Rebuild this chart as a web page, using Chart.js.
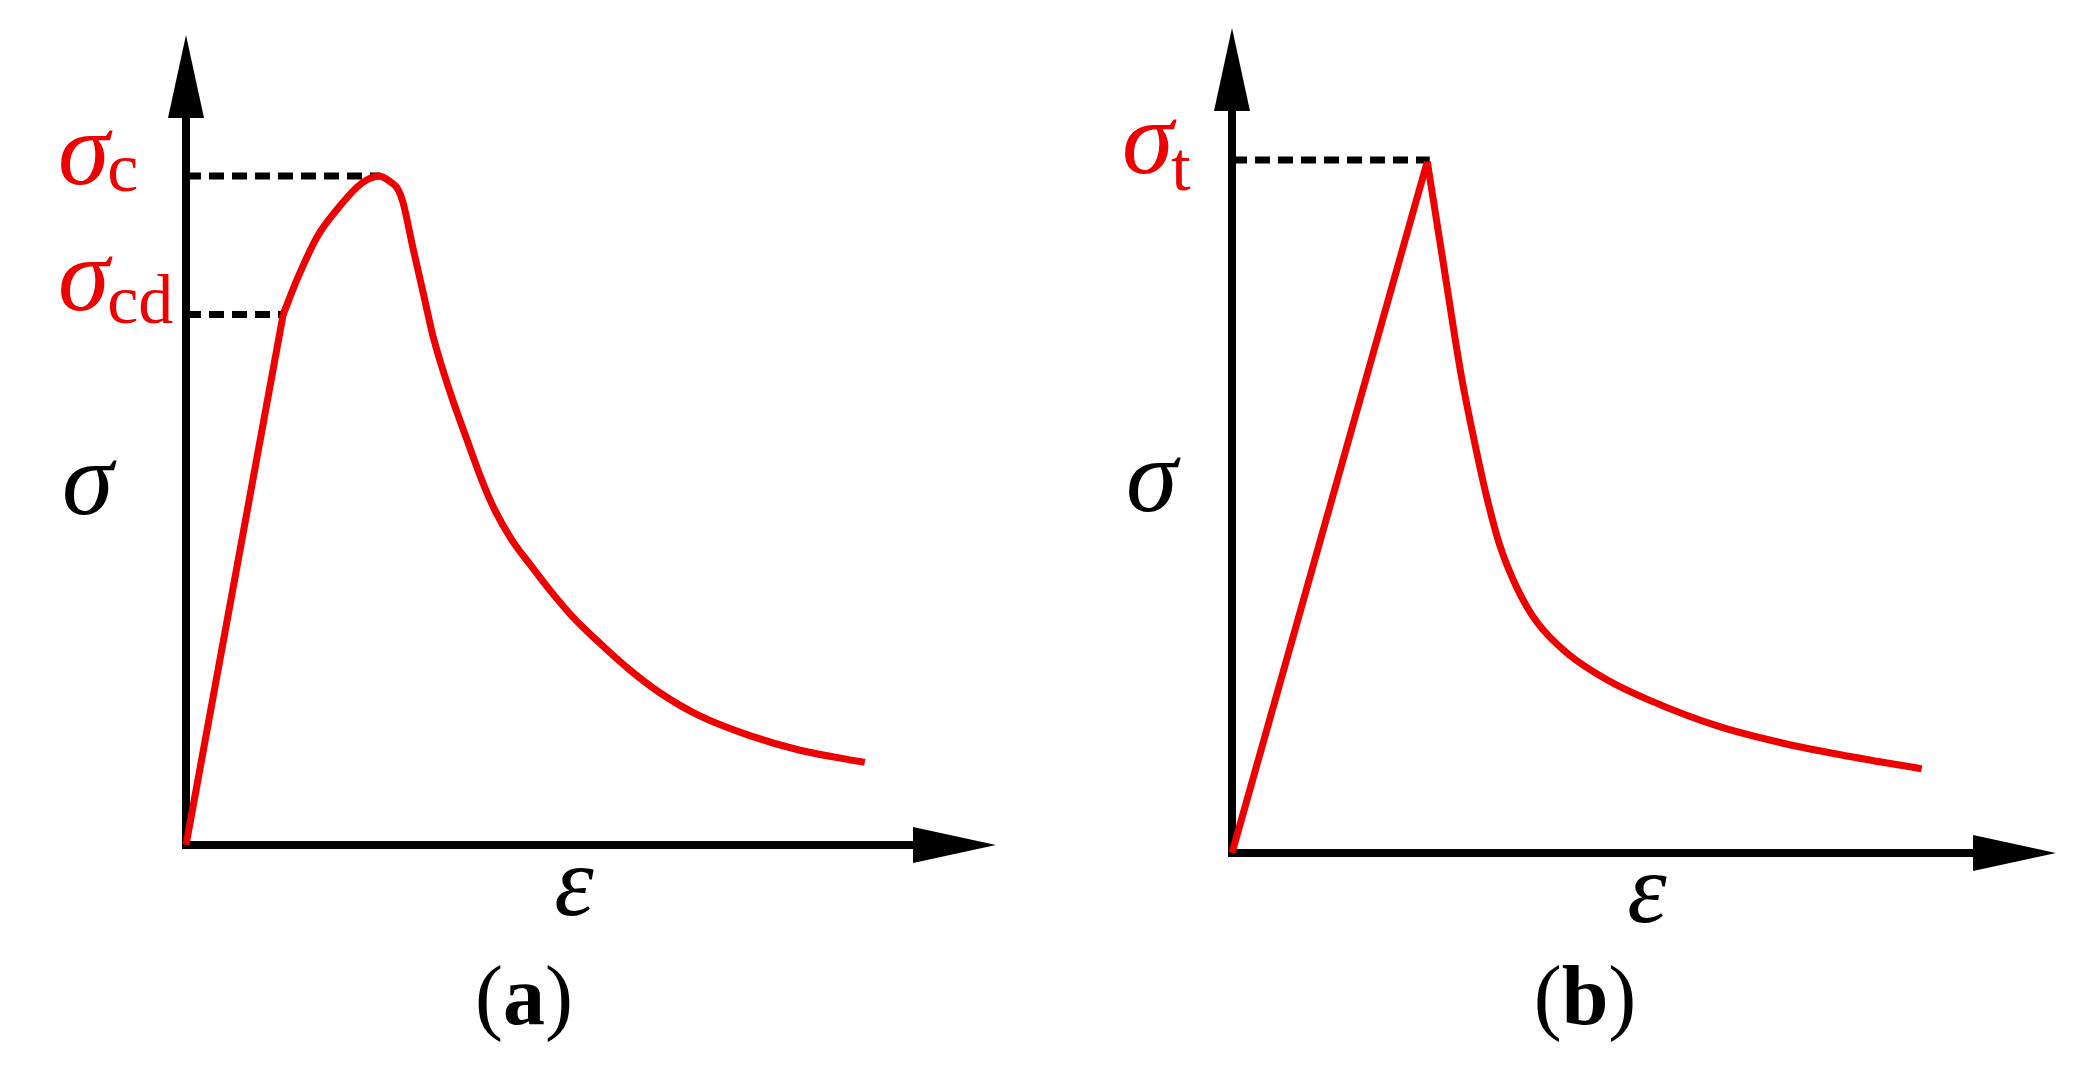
<!DOCTYPE html>
<html><head><meta charset="utf-8">
<script src="https://cdn.jsdelivr.net/npm/chart.js@4/dist/chart.umd.min.js"></script>
<style>
html,body{margin:0;padding:0;background:#fff;width:2088px;height:1083px;overflow:hidden;}
.panel{position:absolute;top:0;width:1044px;height:1083px;}
canvas{display:block;}
</style></head><body>
<div class="panel" style="left:0"><canvas id="ca" width="1044" height="1083"></canvas></div>
<div class="panel" style="left:1044px"><canvas id="cb" width="1044" height="1083"></canvas></div>
<script>
// ---- Panel (a): compressive stress-strain curve (normalised units) ----
const strainA = [0, 1.20, 1.37, 1.62, 1.86, 2.11, 2.23, 2.38, 2.52, 2.62, 2.68, 2.80, 2.93, 3.05, 3.26, 3.47, 3.65, 3.81, 4.02, 4.25, 4.49, 4.78, 5.11, 5.48, 5.85, 6.35, 6.96, 7.58, 8.38];
const stressA = [0, 6.55, 6.98, 7.51, 7.84, 8.12, 8.21, 8.26, 8.19, 8.09, 7.93, 7.38, 6.81, 6.28, 5.59, 5.00, 4.51, 4.14, 3.77, 3.46, 3.15, 2.81, 2.49, 2.16, 1.88, 1.59, 1.35, 1.17, 1.02];
const sigmaC = 8.26, sigmaCd = 6.55;
const strainAtSigmaC = 2.40, strainAtSigmaCd = 1.20;

// ---- Panel (b): tensile stress-strain curve (normalised units) ----
const strainB = [0, 2.37, 2.58, 2.78, 2.95, 3.09, 3.25, 3.46, 3.70, 4.07, 4.55, 5.07, 5.89, 6.69, 7.50, 8.37];
const stressB = [0, 8.38, 7.05, 5.80, 4.95, 4.32, 3.73, 3.21, 2.80, 2.42, 2.10, 1.85, 1.54, 1.33, 1.17, 1.02];
const sigmaT = 8.40, strainAtSigmaT = 2.40;

// ---- Text ----
const axisLabelY = 'σ', axisLabelX = 'ε';
const panelLetters = ['a', 'b'];

const RED = '#ec0000';
const SERIF = '"Liberation Serif", "Times New Roman", serif';

function pts(xs, ys) { return xs.map((v, i) => ({x: v, y: ys[i]})); }

function drawSub(ctx, main, sub, x, base, subBase, mainSize, subSize, color) {
  ctx.fillStyle = color;
  ctx.textAlign = 'left';
  ctx.textBaseline = 'alphabetic';
  ctx.font = `italic ${mainSize}px ${SERIF}`;
  ctx.fillText(main, x, base);
  const w = ctx.measureText(main).width;
  ctx.font = `${subSize}px ${SERIF}`;
  ctx.fillText(sub, x + w - 2, subBase);
}

function drawPanelLabel(ctx, letter, cx, base) {
  const size = 84;
  const reg = `${size}px ${SERIF}`, bold = `bold ${size}px ${SERIF}`;
  ctx.fillStyle = '#000';
  ctx.textBaseline = 'alphabetic';
  ctx.textAlign = 'left';
  ctx.font = reg; const wl = ctx.measureText('(').width, wr = ctx.measureText(')').width;
  ctx.font = bold; const wm = ctx.measureText(letter).width;
  let x = cx - (wl + wm + wr) / 2;
  ctx.font = reg; ctx.fillText('(', x, base); x += wl;
  ctx.font = bold; ctx.fillText(letter, x, base); x += wm;
  ctx.font = reg; ctx.fillText(')', x, base);
}

const axesPlugin = {
  id: 'arrowAxes',
  beforeDatasetsDraw(chart) {
    const {ctx, scales: {x, y}} = chart;
    const x0 = x.getPixelForValue(0), y0 = y.getPixelForValue(0);
    const xt = x.getPixelForValue(x.max), yt = y.getPixelForValue(y.max);
    const lw = 8, L = 83, H = 18;
    ctx.save();
    ctx.fillStyle = '#000'; ctx.strokeStyle = '#000'; ctx.lineWidth = lw; ctx.lineCap = 'butt';
    ctx.beginPath(); ctx.moveTo(x0, y0 + lw / 2); ctx.lineTo(x0, yt + L - 2); ctx.stroke();
    ctx.beginPath(); ctx.moveTo(x0 - lw / 2, y0); ctx.lineTo(xt - L + 2, y0); ctx.stroke();
    ctx.beginPath(); ctx.moveTo(x0, yt); ctx.lineTo(x0 - H, yt + L); ctx.lineTo(x0 + H, yt + L); ctx.closePath(); ctx.fill();
    ctx.beginPath(); ctx.moveTo(xt, y0); ctx.lineTo(xt - L, y0 - H); ctx.lineTo(xt - L, y0 + H); ctx.closePath(); ctx.fill();
    ctx.restore();
  }
};

const labelsPlugin = {
  id: 'labels',
  afterDraw(chart, args, opts) {
    const {ctx, scales: {x, y}} = chart;
    const x0 = x.getPixelForValue(0);
    ctx.save();
    (opts.subs || []).forEach(s => {
      const py = y.getPixelForValue(s.value);
      drawSub(ctx, 'σ', s.sub, x0 + s.dx, py + s.dy, py + s.dsy, 104, 70, RED);
    });
    ctx.fillStyle = '#000';
    ctx.textBaseline = 'alphabetic';
    ctx.font = `italic 104px ${SERIF}`;
    ctx.textAlign = 'left';
    ctx.fillText(axisLabelY, x0 + opts.sigmaDx, opts.sigmaBase);
    ctx.textAlign = 'center';
    ctx.font = `italic 100px ${SERIF}`;
    ctx.fillText(axisLabelX, opts.epsX, opts.epsBase);
    drawPanelLabel(ctx, opts.letter, opts.letterX, 1024);
    ctx.restore();
  }
};

function makeChart(id, curve, splitAt, dashes, padding, labelOpts) {
  const base = {showLine: true, borderColor: RED, borderWidth: 7, pointRadius: 0, clip: false,
    borderJoinStyle: 'round', borderCapStyle: 'butt'};
  const datasets = [
    Object.assign({data: curve.slice(0, splitAt + 1), tension: 0}, base),
    Object.assign({data: curve.slice(splitAt), cubicInterpolationMode: 'monotone'}, base)
  ];
  dashes.forEach(d => datasets.push({
    data: d, showLine: true, borderColor: '#000', borderWidth: 7, borderDash: [15, 8],
    pointRadius: 0, tension: 0, clip: false, borderCapStyle: 'butt'
  }));
  return new Chart(document.getElementById(id), {
    type: 'scatter',
    data: {datasets},
    options: {
      responsive: false, animation: false, devicePixelRatio: 1,
      layout: {padding},
      plugins: {legend: {display: false}, tooltip: {enabled: false}, labels: labelOpts},
      scales: {
        x: {type: 'linear', min: 0, max: 10, display: false},
        y: {type: 'linear', min: 0, max: 10, display: false}
      }
    },
    plugins: [axesPlugin, labelsPlugin]
  });
}

makeChart('ca', pts(strainA, stressA), 1, [
  [{x: 0, y: sigmaC}, {x: strainAtSigmaC, y: sigmaC}],
  [{x: 0, y: sigmaCd}, {x: strainAtSigmaCd, y: sigmaCd}]
], {left: 186, right: 48, top: 35, bottom: 238}, {
  subs: [{value: sigmaC, sub: 'c', dx: -128, dy: 8, dsy: 15}, {value: sigmaCd, sub: 'cd', dx: -128, dy: -4, dsy: 9}],
  sigmaDx: -124, sigmaBase: 514, epsX: 574, epsBase: 915, letter: panelLetters[0], letterX: 524
});

makeChart('cb', pts(strainB, stressB), 1, [
  [{x: 0, y: sigmaT}, {x: strainAtSigmaT, y: sigmaT}]
], {left: 188, right: 32, top: 28, bottom: 230}, {
  subs: [{value: sigmaT, sub: 't', dx: -110, dy: 13, dsy: 30}],
  sigmaDx: -106, sigmaBase: 511, epsX: 603, epsBase: 922, letter: panelLetters[1], letterX: 541
});
</script>
</body></html>
